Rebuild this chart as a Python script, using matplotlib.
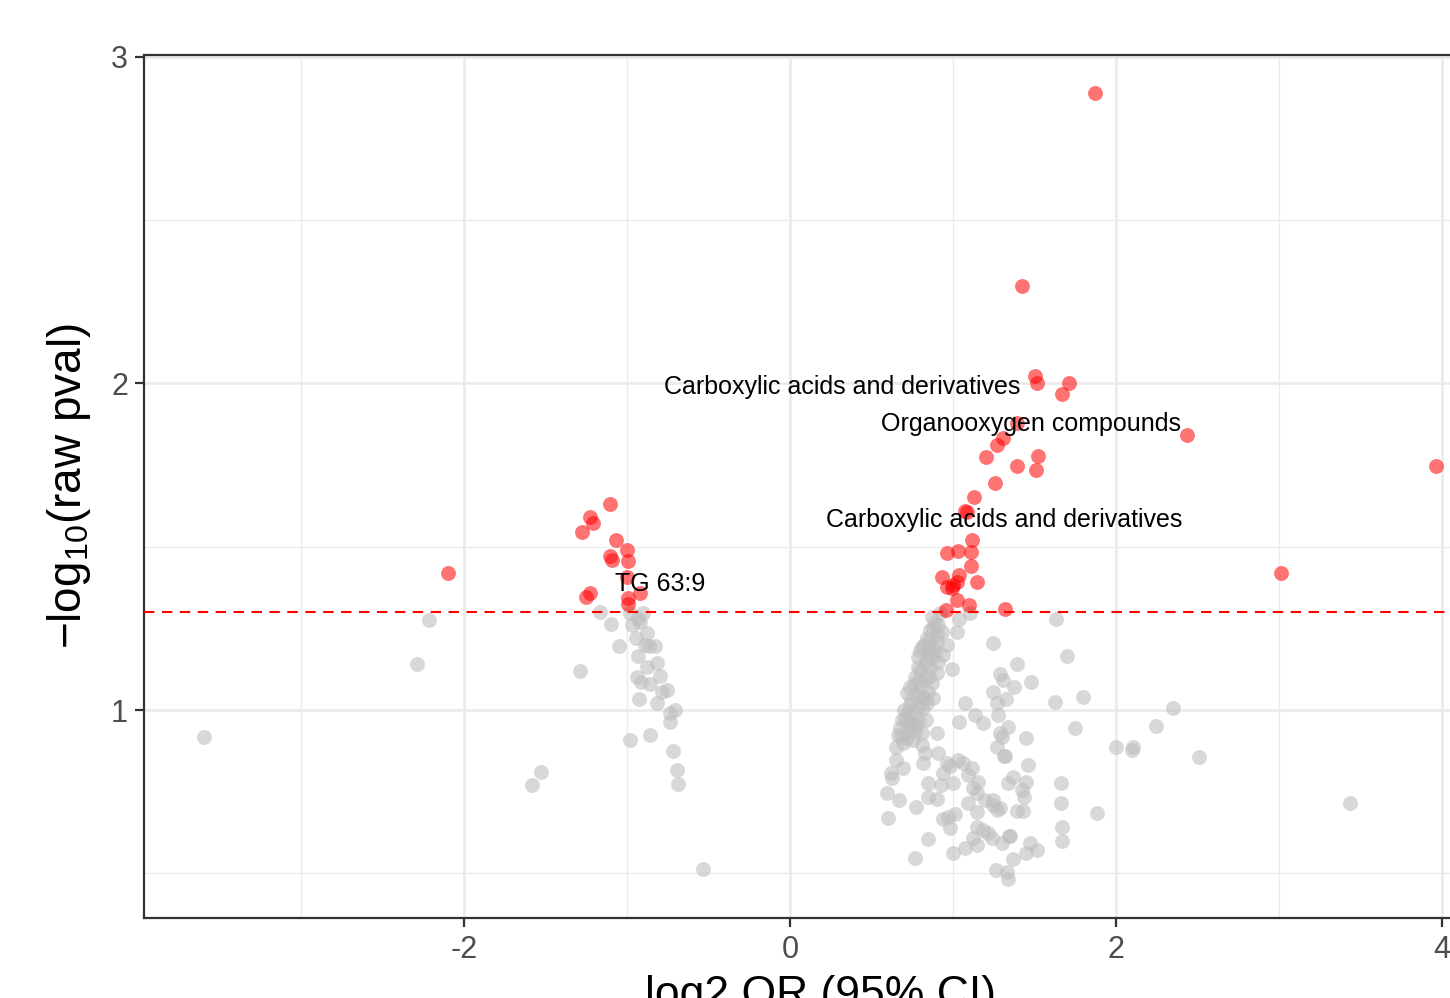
import matplotlib
matplotlib.use("Agg")
import matplotlib.pyplot as plt
import numpy as np

plt.rcParams['font.family'] = ['Liberation Sans', 'DejaVu Sans']
plt.rcParams['mathtext.fontset'] = 'custom'
plt.rcParams['mathtext.rm'] = 'Liberation Sans'
plt.rcParams['mathtext.it'] = 'Liberation Sans:italic'

# significant (red) points: log2 OR, -log10(p)
sig_x = [-2.10, -1.104, -1.227, -1.209, -1.276, -1.067, -1.000, -1.104, -1.092, -0.994,
         -1.000, -1.227, -1.252, -0.920, -0.994, -0.994,
         1.871, 1.423, 1.503, 1.515, 1.712, 1.669, 1.393, 1.307, 1.270, 2.436,
         1.202, 1.521, 1.509, 1.393, 1.258, 1.129, 1.074, 1.086, 1.117, 0.963,
         1.031, 1.110, 1.110, 0.933, 1.037, 1.025, 0.963, 0.994, 1.000, 1.147,
         1.025, 1.098, 0.957, 1.319, 3.012, 3.963]
sig_y = [1.420, 1.631, 1.591, 1.573, 1.545, 1.521, 1.490, 1.472, 1.459, 1.456,
         1.407, 1.358, 1.346, 1.358, 1.343, 1.325,
         2.890, 2.299, 2.024, 2.003, 2.003, 1.969, 1.879, 1.833, 1.812, 1.842,
         1.775, 1.778, 1.735, 1.747, 1.695, 1.653, 1.610, 1.606, 1.521, 1.481,
         1.487, 1.484, 1.441, 1.407, 1.413, 1.392, 1.377, 1.374, 1.383, 1.392,
         1.337, 1.322, 1.306, 1.309, 1.420, 1.747]

# non-significant (grey) points
ns_x = [-3.595, -2.215, -2.288, -1.288, -1.583, -1.528, -0.534,
        -1.166, -1.098, -1.049, -0.982, -0.902, -0.933, -0.969, -0.920, -0.877, -0.945,
        -0.890, -0.865, -0.828, -0.933, -0.816, -0.877, -0.798, -0.939, -0.914, -0.859,
        -0.755, -0.785, -0.926, -0.816, -0.706, -0.736, -0.736, -0.982, -0.859, -0.718,
        -0.693, -0.687,
        1.632, 1.699, 1.393, 1.479, 1.374, 1.325, 1.626, 1.798, 2.350, 1.748, 2.245,
        2.000, 2.104, 2.098, 2.509, 1.448, 1.337, 1.460, 1.319, 1.663, 1.663, 1.883,
        3.436, 1.669, 1.669, 1.368, 1.337, 1.448, 1.423, 1.436, 1.393, 1.429, 1.344,
        1.472, 1.448, 1.515, 1.368, 1.331, 1.337,
        1.245, 1.025, 1.037, 1.104, 1.288, 1.307, 1.245, 0.994, 1.270, 1.074, 1.135,
        1.184, 1.037, 1.276, 1.288, 1.301, 1.270, 1.313, 0.902, 0.834, 0.908, 0.810,
        0.828, 0.816, 0.650, 0.693, 0.620, 0.626, 0.595, 0.669, 0.601, 0.773, 0.767,
        0.847, 0.847, 0.926, 1.000, 0.847, 0.902, 0.939, 0.963, 0.982, 1.031, 1.061,
        1.117, 1.092, 1.153, 1.123, 1.147, 1.092, 1.147, 1.196, 1.245, 1.270, 1.288,
        1.245, 0.939, 0.969, 1.012, 0.982, 1.147, 1.184, 1.215, 1.239, 1.123, 1.147,
        1.074, 1.000, 1.301, 1.350, 1.264,
        0.871, 0.920, 0.890, 0.859, 0.933, 0.840, 0.902, 0.963, 0.810, 0.847, 0.890,
        0.939, 0.785, 0.840, 0.908, 0.785, 0.859, 0.902, 0.767, 0.828, 0.871, 0.736,
        0.798, 0.847, 0.718, 0.779, 0.828, 0.877, 0.736, 0.785, 0.840, 0.718, 0.767,
        0.687, 0.736, 0.785, 0.675, 0.724, 0.767, 0.663, 0.718, 0.755, 0.693, 0.650,
        0.810, 0.880, 0.820, 0.870, 0.800, 0.760, 0.810, 0.700, 0.750, 0.680, 0.800,
        0.850, 0.860, 0.900, 0.830, 0.790, 0.740, 0.705, 0.770, 0.910, 0.880, 0.815]
ns_y = [0.917, 1.275, 1.141, 1.120, 0.770, 0.810, 0.513,
        1.300, 1.263, 1.196, 1.297, 1.297, 1.282, 1.260, 1.270, 1.236, 1.221,
        1.199, 1.196, 1.196, 1.165, 1.144, 1.132, 1.104, 1.101, 1.086, 1.080,
        1.062, 1.055, 1.034, 1.022, 1.000, 0.991, 0.963, 0.908, 0.923, 0.874,
        0.816, 0.773,
        1.279, 1.165, 1.141, 1.086, 1.071, 1.034, 1.025, 1.040, 1.006, 0.945, 0.951,
        0.887, 0.887, 0.878, 0.856, 0.914, 0.948, 0.832, 0.859, 0.776, 0.715, 0.685,
        0.715, 0.641, 0.599, 0.795, 0.776, 0.779, 0.755, 0.734, 0.691, 0.691, 0.614,
        0.593, 0.562, 0.571, 0.544, 0.504, 0.482,
        1.205, 1.239, 1.279, 1.297, 1.110, 1.092, 1.055, 1.126, 1.021, 1.021, 0.985,
        0.960, 0.963, 0.985, 0.930, 0.917, 0.887, 0.859, 0.930, 0.969, 0.868, 0.893,
        0.868, 0.838, 0.847, 0.822, 0.807, 0.792, 0.746, 0.725, 0.669, 0.703, 0.547,
        0.605, 0.776, 0.770, 0.776, 0.734, 0.727, 0.807, 0.838, 0.828, 0.847, 0.838,
        0.822, 0.801, 0.779, 0.761, 0.746, 0.715, 0.688, 0.725, 0.725, 0.694, 0.700,
        0.709, 0.666, 0.672, 0.682, 0.639, 0.642, 0.633, 0.623, 0.608, 0.608, 0.587,
        0.578, 0.562, 0.593, 0.614, 0.510,
        1.285, 1.297, 1.267, 1.245, 1.239, 1.221, 1.208, 1.199, 1.193, 1.184, 1.177,
        1.168, 1.162, 1.153, 1.147, 1.132, 1.129, 1.113, 1.101, 1.098, 1.083, 1.071,
        1.067, 1.055, 1.052, 1.046, 1.037, 1.037, 1.015, 1.009, 1.021, 0.991, 0.994,
        0.969, 0.963, 0.969, 0.945, 0.939, 0.933, 0.923, 0.914, 0.908, 0.899, 0.887,
        0.930, 1.250, 1.200, 1.160, 1.120, 1.080, 1.040, 1.000, 0.950, 0.920, 1.180,
        1.100, 1.215, 1.230, 1.140, 1.090, 1.030, 0.975, 0.955, 1.260, 1.190, 1.005]

# labels
label_text = ["Carboxylic acids and derivatives", "Organooxygen compounds",
              "Carboxylic acids and derivatives", "TG 63:9"]
label_x = [0.322, 1.479, 1.313, -0.798]
label_y = [1.989, 1.876, 1.582, 1.386]

threshold = -np.log10(0.05)
x_ticks = [-2, 0, 2, 4]
x_ticklabels = ["-2", "0", "2", "4"]
y_ticks = [1, 2, 3]
y_ticklabels = ["1", "2", "3"]

fig = plt.figure(figsize=(14.5, 9.98), dpi=100)
ax = fig.add_axes([144/1450, 80/998, 1353/1450, 863/998])
ax.set_xlim(-3.963, 4.337)
ax.set_ylim(0.363, 3.006)

ax.set_xticks(x_ticks)
ax.set_xticklabels(x_ticklabels, fontsize=22, color='#4D4D4D')
ax.set_yticks(y_ticks)
ax.set_yticklabels(y_ticklabels, fontsize=22, color='#4D4D4D')
ax.set_xticks([-3, -1, 1, 3], minor=True)
ax.set_yticks([0.5, 1.5, 2.5], minor=True)
ax.grid(True, which='major', color='#EBEBEB', linewidth=2.0, zorder=0)
ax.grid(True, which='minor', color='#EBEBEB', linewidth=1.0, zorder=0)
ax.set_axisbelow(True)
ax.tick_params(which='minor', length=0)
ax.tick_params(which='major', length=6.5, width=1.6, color='#333333')
ax.tick_params(axis='x', pad=6)
ax.tick_params(axis='y', pad=5)
for sp in ax.spines.values():
    sp.set_color('#333333')
    sp.set_linewidth(1.6)

ax.scatter(ns_x, ns_y, s=115, c='#BEBEBE', alpha=0.6, linewidths=0, zorder=2)
ax.scatter(sig_x, sig_y, s=115, c='#FF0000', alpha=0.55, linewidths=0, zorder=3)

hl = ax.axhline(threshold, color='#FF0000', linewidth=1.5, zorder=4)
hl.set_dashes((5, 3.6))

for t, x, y in zip(label_text, label_x, label_y):
    ax.text(x, y, t, fontsize=18, color='black', ha='center', va='center', zorder=5)

ax.set_xlabel("log2 OR (95% CI)", fontsize=32, color='black')
ax.set_ylabel(r"$-\mathrm{log}_{10}$(raw pval)", fontsize=33, color='black')
ax.xaxis.set_label_coords(0.5, -0.066)
ax.yaxis.set_label_coords((93 - 144) / 1353, 0.5)

fig.savefig("out.png", dpi=100)
